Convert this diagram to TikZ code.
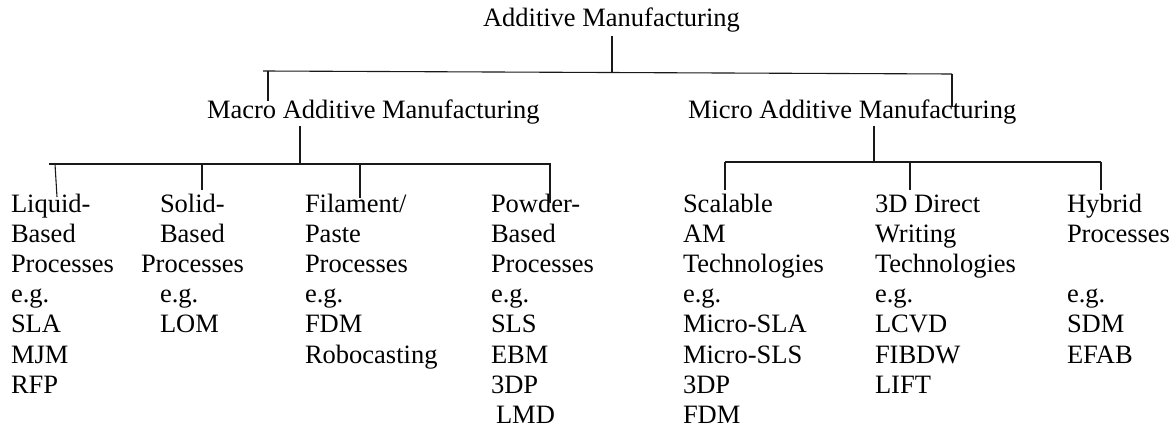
\documentclass[tikz,border=0pt]{standalone}
\usepackage{fontspec}
\setmainfont{Liberation Serif}
\newcommand\txtsz{\fontsize{26.5pt}{30pt}\selectfont}
\newcommand\colnodes[3]{\foreach \t [count=\i] in {#3} {\node[lbl] (#1\i) at (#2,183+30*\i) {\t};}}
\begin{document}
\begin{tikzpicture}[x=1pt,y=-1pt,
  lbl/.style={anchor=base west, inner sep=0pt, outer sep=0pt, font=\txtsz, text=black},
  conn/.style={line width=1.1pt, draw=black!90}]
\useasboundingbox (0,0) rectangle (1176,430);
% titles
\node[lbl] (root)  at (483,27)  {Additive Manufacturing};
\node[lbl] (macro) at (207,119) {Macro Additive Manufacturing};
\node[lbl] (micro) at (688,119) {Micro Additive Manufacturing};
% columns
\colnodes{liq}{11}{Liquid-,Based,Processes,e.g.,SLA,MJM,RFP}
\node[lbl] (sol1) at (160,213) {Solid-};
\node[lbl] (sol2) at (160,243) {Based};
\node[lbl] (sol3) at (141,273) {Processes};
\node[lbl] (sol4) at (160,303) {e.g.};
\node[lbl] (sol5) at (160,333) {LOM};
\colnodes{fil}{305}{Filament/,Paste,Processes,e.g.,FDM,Robocasting}
\colnodes{pow}{491}{Powder-,Based,Processes,e.g.,SLS,EBM,3DP}
\node[lbl] (pow8) at (496,423) {LMD};
\colnodes{sca}{683}{Scalable,AM,Technologies,e.g.,Micro-SLA,Micro-SLS,3DP,FDM}
\colnodes{dir}{875}{3D Direct,Writing,Technologies,e.g.,LCVD,FIBDW,LIFT}
\node[lbl] (hyb1) at (1067,213) {Hybrid};
\node[lbl] (hyb2) at (1067,243) {Processes};
\node[lbl] (hyb4) at (1067,303) {e.g.};
\node[lbl] (hyb5) at (1067,333) {SDM};
\node[lbl] (hyb6) at (1067,363) {EFAB};
% connector coordinates
\coordinate (rootDown) at (612,36);
\coordinate (b0L) at (263,71);
\coordinate (b0R) at (952,74);
\coordinate (macUp) at (268,101);
\coordinate (micUp) at (952,107);
\coordinate (macDown) at (300,126);
\coordinate (micDown) at (874,126);
\coordinate (b1L) at (49,164);
\coordinate (b1R) at (551,164);
\coordinate (b2L) at (725,162);
\coordinate (b2R) at (1101,162);
\coordinate (liqT0) at (55,164);
\coordinate (liqT) at (57,197);
\coordinate (solT) at (202,190);
\coordinate (filT) at (360,198);
\coordinate (powT) at (550,203);
\coordinate (scaT) at (725,190);
\coordinate (dirT) at (910,190);
\coordinate (hybT) at (1101,190);
% level 0
\draw[conn] (rootDown) -- (rootDown |- 0,72.5);
\draw[conn] (b0L) -- (b0R);
\draw[conn] (macUp |- b0L) -- (macUp);
\draw[conn] (b0R) -- (micUp);
% macro
\draw[conn] (macDown) -- (macDown |- b1L);
\draw[conn] (b1L) -- (b1R);
\draw[conn] (liqT0) -- (liqT);
\draw[conn] (solT |- b1L) -- (solT);
\draw[conn] (filT |- b1L) -- (filT);
\draw[conn] (powT |- b1L) -- (powT);
% micro
\draw[conn] (micDown) -- (micDown |- b2L);
\draw[conn] (b2L) -- (b2R);
\draw[conn] (b2L) -- (scaT);
\draw[conn] (dirT |- b2L) -- (dirT);
\draw[conn] (b2R) -- (hybT);
\end{tikzpicture}
\end{document}
